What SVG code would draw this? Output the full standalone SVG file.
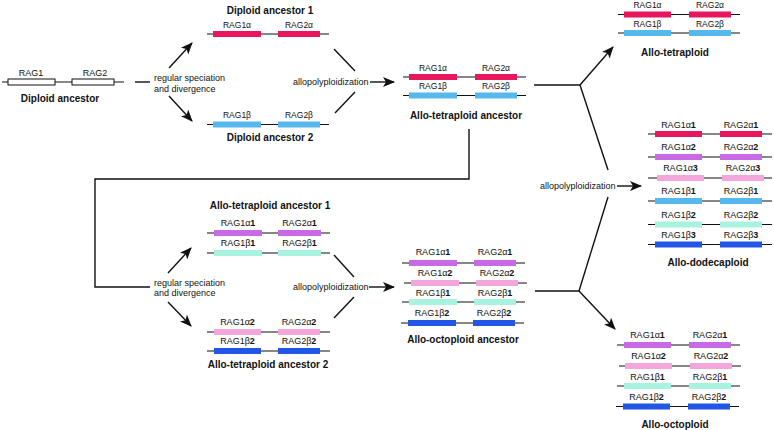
<svg xmlns="http://www.w3.org/2000/svg" width="774" height="430" viewBox="0 0 774 430">
<style>
text{font-family:"Liberation Sans",Arial,sans-serif;fill:#111}
.lb{font-size:8.5px;text-anchor:middle}
.n{font-size:9px}
.b{font-weight:bold}
.t{font-size:10px;font-weight:bold;text-anchor:middle}
.tx{font-size:9px}
.g{stroke:#111;stroke-width:1.2}
.cn{stroke:#111;stroke-width:1.4;fill:none}
.w{fill:#fff;stroke:#111;stroke-width:1}
.red{fill:#E8175D}
.blu{fill:#56B8EC}
.pur{fill:#C869E6}
.pnk{fill:#F2A6DC}
.mnt{fill:#A8F3DF}
.dbl{fill:#2256E6}
</style>
<defs>
<marker id="ah" viewBox="0 0 12 10" refX="11" refY="5" markerWidth="12" markerHeight="10" markerUnits="userSpaceOnUse" orient="auto">
<path d="M0,0 L12,5 L0,10 L3,5 z" fill="#111"/>
</marker>
</defs>

<g id="connectors">
<line class="cn" x1="135" y1="82" x2="150" y2="82"/>
<line class="cn" x1="169" y1="68" x2="192" y2="43" marker-end="url(#ah)"/>
<line class="cn" x1="169" y1="96" x2="192" y2="121" marker-end="url(#ah)"/>
<line class="cn" x1="334" y1="49" x2="355" y2="71"/>
<line class="cn" x1="355" y1="92" x2="335" y2="113"/>
<line class="cn" x1="370" y1="82" x2="394" y2="82" marker-end="url(#ah)"/>
<line class="cn" x1="534" y1="85" x2="580" y2="85"/>
<line class="cn" x1="580" y1="85" x2="613" y2="47" marker-end="url(#ah)"/>
<line class="cn" x1="580" y1="85" x2="608" y2="170"/>
<line class="cn" x1="608" y1="197" x2="579" y2="291"/>
<line class="cn" x1="617" y1="186" x2="641" y2="186" marker-end="url(#ah)"/>
<polyline class="cn" points="469,129 469,179 95,179 95,287 150,287"/>
<line class="cn" x1="168" y1="273" x2="191" y2="248" marker-end="url(#ah)"/>
<line class="cn" x1="168" y1="302" x2="191" y2="326" marker-end="url(#ah)"/>
<line class="cn" x1="334" y1="255" x2="354" y2="277"/>
<line class="cn" x1="354" y1="297" x2="334" y2="318"/>
<line class="cn" x1="369" y1="287" x2="394" y2="287" marker-end="url(#ah)"/>
<line class="cn" x1="535" y1="291" x2="579" y2="291"/>
<line class="cn" x1="579" y1="291" x2="615" y2="329" marker-end="url(#ah)"/>
<text class="tx" x="154" y="81">regular speciation</text>
<text class="tx" x="154" y="91.5">and divergence</text>
<text class="tx" x="293" y="85">allopolyploidization</text>
<text class="tx" x="154" y="285.5">regular speciation</text>
<text class="tx" x="154" y="296">and divergence</text>
<text class="tx" x="293" y="290">allopolyploidization</text>
<text class="tx" x="540" y="189">allopolyploidization</text>
</g>

<g id="diploid-ancestor">
<line class="g" x1="2" y1="82" x2="124" y2="82"/>
<rect class="w" x="8" y="79" width="47" height="6"/>
<rect class="w" x="72" y="79" width="42" height="6"/>
<text class="lb n" x="31" y="76">RAG1</text>
<text class="lb n" x="95" y="76">RAG2</text>
<text class="t" x="60" y="102">Diploid ancestor</text>
</g>

<g id="diploid-ancestor-1">
<text class="t" x="270" y="14">Diploid ancestor 1</text>
<line class="g" x1="207" y1="34" x2="329" y2="34"/>
<rect class="red" x="213" y="31" width="48" height="6"/>
<rect class="red" x="278" y="31" width="42" height="6"/>
<text class="lb" x="237" y="28">RAG1α</text>
<text class="lb" x="299" y="28">RAG2α</text>
</g>

<g id="diploid-ancestor-2">
<line class="g" x1="207" y1="124.5" x2="329" y2="124.5"/>
<rect class="blu" x="213" y="121.5" width="48" height="6"/>
<rect class="blu" x="278" y="121.5" width="42" height="6"/>
<text class="lb" x="237" y="118">RAG1β</text>
<text class="lb" x="299" y="118">RAG2β</text>
<text class="t" x="270" y="141">Diploid ancestor 2</text>
</g>

<g id="allo-tetraploid-ancestor">
<line class="g" x1="403" y1="77" x2="526" y2="77"/>
<rect class="red" x="409" y="74" width="48" height="6"/>
<rect class="red" x="475" y="74" width="42" height="6"/>
<text class="lb" x="433" y="70.5">RAG1α</text>
<text class="lb" x="496" y="70.5">RAG2α</text>
<line class="g" x1="403" y1="95.5" x2="526" y2="95.5"/>
<rect class="blu" x="409" y="92.5" width="48" height="6"/>
<rect class="blu" x="475" y="92.5" width="42" height="6"/>
<text class="lb" x="433" y="89">RAG1β</text>
<text class="lb" x="496" y="89">RAG2β</text>
<text class="t" x="466" y="119">Allo-tetraploid ancestor</text>
</g>

<g id="allo-tetraploid">
<line class="g" x1="618" y1="14.5" x2="740" y2="14.5"/>
<rect class="red" x="624" y="11.5" width="47" height="6"/>
<rect class="red" x="689" y="11.5" width="42" height="6"/>
<text class="lb" x="647.5" y="8">RAG1α</text>
<text class="lb" x="710" y="8">RAG2α</text>
<line class="g" x1="618" y1="33" x2="740" y2="33"/>
<rect class="blu" x="624" y="30" width="47" height="6"/>
<rect class="blu" x="689" y="30" width="42" height="6"/>
<text class="lb" x="647.5" y="27">RAG1β</text>
<text class="lb" x="710" y="27">RAG2β</text>
<text class="t" x="675" y="56">Allo-tetraploid</text>
</g>

<g id="allo-dodecaploid">
<line class="g" x1="648" y1="134" x2="772" y2="134"/>
<rect class="red" x="655" y="131" width="47" height="6"/>
<rect class="red" x="720" y="131" width="42" height="6"/>
<text class="lb n" x="678.5" y="128">RAG1α<tspan class="b">1</tspan></text>
<text class="lb n" x="741" y="128">RAG2α<tspan class="b">1</tspan></text>
<line class="g" x1="648" y1="157" x2="772" y2="157"/>
<rect class="pur" x="655" y="154" width="47" height="6"/>
<rect class="pur" x="720" y="154" width="42" height="6"/>
<text class="lb n" x="678.5" y="150">RAG1α<tspan class="b">2</tspan></text>
<text class="lb n" x="741" y="150">RAG2α<tspan class="b">2</tspan></text>
<line class="g" x1="648" y1="178" x2="772" y2="178"/>
<rect class="pnk" x="657" y="175" width="47" height="6"/>
<rect class="pnk" x="722" y="175" width="42" height="6"/>
<text class="lb n" x="680.5" y="171">RAG1α<tspan class="b">3</tspan></text>
<text class="lb n" x="743" y="171">RAG2α<tspan class="b">3</tspan></text>
<line class="g" x1="648" y1="201" x2="772" y2="201"/>
<rect class="blu" x="655" y="198" width="47" height="6"/>
<rect class="blu" x="720" y="198" width="42" height="6"/>
<text class="lb n" x="678.5" y="194">RAG1β<tspan class="b">1</tspan></text>
<text class="lb n" x="741" y="194">RAG2β<tspan class="b">1</tspan></text>
<line class="g" x1="648" y1="224.5" x2="772" y2="224.5"/>
<rect class="mnt" x="655" y="221.5" width="47" height="6"/>
<rect class="mnt" x="720" y="221.5" width="42" height="6"/>
<text class="lb n" x="678.5" y="218">RAG1β<tspan class="b">2</tspan></text>
<text class="lb n" x="741" y="218">RAG2β<tspan class="b">2</tspan></text>
<line class="g" x1="648" y1="244.5" x2="772" y2="244.5"/>
<rect class="dbl" x="655" y="241.5" width="47" height="6"/>
<rect class="dbl" x="720" y="241.5" width="42" height="6"/>
<text class="lb n" x="678.5" y="238">RAG1β<tspan class="b">3</tspan></text>
<text class="lb n" x="741" y="238">RAG2β<tspan class="b">3</tspan></text>
<text class="t" x="708" y="266">Allo-dodecaploid</text>
</g>

<g id="allo-tetraploid-ancestor-1">
<text class="t" x="270" y="209">Allo-tetraploid ancestor 1</text>
<line class="g" x1="207" y1="233" x2="330" y2="233"/>
<rect class="pur" x="214" y="230" width="48" height="6"/>
<rect class="pur" x="278" y="230" width="43" height="6"/>
<text class="lb n" x="238" y="226">RAG1α<tspan class="b">1</tspan></text>
<text class="lb n" x="299.5" y="226">RAG2α<tspan class="b">1</tspan></text>
<line class="g" x1="207" y1="253" x2="330" y2="253"/>
<rect class="mnt" x="214" y="250" width="48" height="6"/>
<rect class="mnt" x="278" y="250" width="43" height="6"/>
<text class="lb n" x="238" y="246">RAG1β<tspan class="b">1</tspan></text>
<text class="lb n" x="299.5" y="246">RAG2β<tspan class="b">1</tspan></text>
</g>

<g id="allo-tetraploid-ancestor-2">
<line class="g" x1="207" y1="332" x2="330" y2="332"/>
<rect class="pnk" x="214" y="329" width="47" height="6"/>
<rect class="pnk" x="278" y="329" width="42" height="6"/>
<text class="lb n" x="237.5" y="325">RAG1α<tspan class="b">2</tspan></text>
<text class="lb n" x="299" y="325">RAG2α<tspan class="b">2</tspan></text>
<line class="g" x1="207" y1="351" x2="330" y2="351"/>
<rect class="dbl" x="214" y="348" width="47" height="6"/>
<rect class="dbl" x="278" y="348" width="42" height="6"/>
<text class="lb n" x="237.5" y="344">RAG1β<tspan class="b">2</tspan></text>
<text class="lb n" x="299" y="344">RAG2β<tspan class="b">2</tspan></text>
<text class="t" x="268" y="368">Allo-tetraploid ancestor 2</text>
</g>

<g id="allo-octoploid-ancestor">
<line class="g" x1="402" y1="263" x2="525" y2="263"/>
<rect class="pur" x="409" y="260" width="48" height="6"/>
<rect class="pur" x="474" y="260" width="42" height="6"/>
<text class="lb n" x="433" y="255">RAG1α<tspan class="b">1</tspan></text>
<text class="lb n" x="495" y="255">RAG2α<tspan class="b">1</tspan></text>
<line class="g" x1="404" y1="283" x2="527" y2="283"/>
<rect class="pnk" x="411" y="280" width="48" height="6"/>
<rect class="pnk" x="476" y="280" width="42" height="6"/>
<text class="lb n" x="435" y="276">RAG1α<tspan class="b">2</tspan></text>
<text class="lb n" x="497" y="276">RAG2α<tspan class="b">2</tspan></text>
<line class="g" x1="402" y1="302" x2="525" y2="302"/>
<rect class="mnt" x="409" y="299" width="48" height="6"/>
<rect class="mnt" x="474" y="299" width="42" height="6"/>
<text class="lb n" x="433" y="296">RAG1β<tspan class="b">1</tspan></text>
<text class="lb n" x="495" y="296">RAG2β<tspan class="b">1</tspan></text>
<line class="g" x1="401" y1="323" x2="524" y2="323"/>
<rect class="dbl" x="408" y="320" width="48" height="6"/>
<rect class="dbl" x="473" y="320" width="42" height="6"/>
<text class="lb n" x="432" y="316">RAG1β<tspan class="b">2</tspan></text>
<text class="lb n" x="494" y="316">RAG2β<tspan class="b">2</tspan></text>
<text class="t" x="463" y="343">Allo-octoploid ancestor</text>
</g>

<g id="allo-octoploid">
<line class="g" x1="617" y1="345" x2="740" y2="345"/>
<rect class="pur" x="624" y="342" width="47" height="6"/>
<rect class="pur" x="689" y="342" width="42" height="6"/>
<text class="lb n" x="647.5" y="338">RAG1α<tspan class="b">1</tspan></text>
<text class="lb n" x="710" y="338">RAG2α<tspan class="b">1</tspan></text>
<line class="g" x1="619" y1="366" x2="741" y2="366"/>
<rect class="pnk" x="625" y="363" width="47" height="6"/>
<rect class="pnk" x="690" y="363" width="42" height="6"/>
<text class="lb n" x="648.5" y="359">RAG1α<tspan class="b">2</tspan></text>
<text class="lb n" x="711" y="359">RAG2α<tspan class="b">2</tspan></text>
<line class="g" x1="617" y1="386" x2="740" y2="386"/>
<rect class="mnt" x="624" y="383" width="47" height="6"/>
<rect class="mnt" x="689" y="383" width="42" height="6"/>
<text class="lb n" x="647.5" y="379.5">RAG1β<tspan class="b">1</tspan></text>
<text class="lb n" x="710" y="379.5">RAG2β<tspan class="b">1</tspan></text>
<line class="g" x1="616" y1="406.5" x2="739" y2="406.5"/>
<rect class="dbl" x="623" y="403.5" width="47" height="6"/>
<rect class="dbl" x="688" y="403.5" width="42" height="6"/>
<text class="lb n" x="646.5" y="400">RAG1β<tspan class="b">2</tspan></text>
<text class="lb n" x="709" y="400">RAG2β<tspan class="b">2</tspan></text>
<text class="t" x="675" y="428">Allo-octoploid</text>
</g>
</svg>
